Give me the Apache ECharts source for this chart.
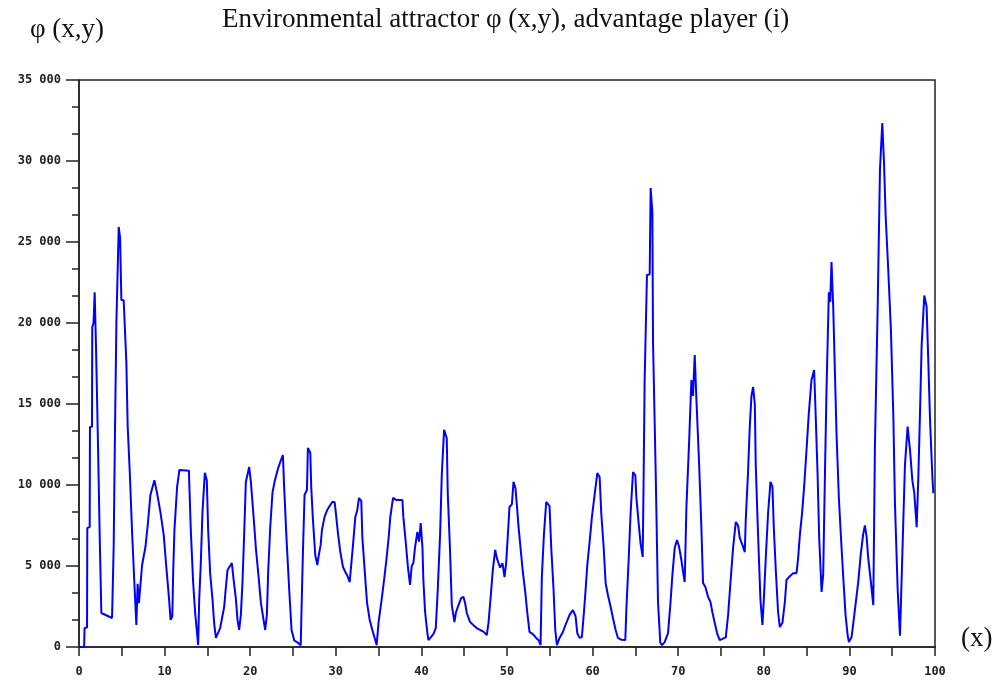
<!DOCTYPE html>
<html>
<head>
<meta charset="utf-8">
<title>Environmental attractor</title>
<script src="https://cdn.jsdelivr.net/npm/echarts@6/dist/echarts.min.js"></script>
<style>
  html, body { margin: 0; padding: 0; background: #fff; }
  #chart { width: 997px; height: 682px; }
</style>
</head>
<body>
<div id="chart"></div>
<script>
// x positions (0..100) and phi(x,y) values
const xs = [
  0, 0.6, 0.65, 0.94, 0.97, 1.25, 1.28, 1.52, 1.55, 1.7, 1.83, 2.0, 2.22, 2.42, 2.61, 3.86,
  4.05, 4.2, 4.37, 4.64, 4.8, 4.95, 5.22, 5.53, 5.69, 5.93, 6.2, 6.47, 6.7, 6.85, 7.0, 7.37,
  7.76, 8.03, 8.34, 8.81, 9.12, 9.51, 9.9, 10.2, 10.5, 10.7, 10.9, 11.0, 11.15, 11.46, 11.73, 12.85,
  12.87, 13.06, 13.33, 13.57, 13.76, 13.92, 14.04, 14.23, 14.42, 14.7, 14.93, 15.09, 15.32, 15.6, 15.79, 15.99,
  16.49, 16.96, 17.15, 17.35, 17.86, 18.05, 18.32, 18.52, 18.71, 18.91, 19.1, 19.3, 19.49, 19.88, 20.08, 20.27,
  20.47, 20.66, 20.94, 21.25, 21.56, 21.75, 21.95, 22.1, 22.34, 22.61, 22.89, 23.2, 23.59, 23.82, 23.98, 24.25,
  24.56, 24.83, 25.15, 25.6, 25.9, 26.0, 26.16, 26.35, 26.63, 26.74, 27.02, 27.13, 27.33, 27.6, 27.84, 27.99,
  28.23, 28.38, 28.69, 29.0, 29.28, 29.59, 29.86, 29.98, 30.25, 30.53, 30.84, 31.11, 31.35, 31.62, 31.81, 32.01,
  32.28, 32.51, 32.71, 32.98, 33.1, 33.37, 33.65, 33.96, 34.27, 34.54, 34.77, 35.0, 35.32, 35.64, 35.91, 36.18,
  36.37, 36.69, 37.08, 37.78, 37.89, 38.17, 38.4, 38.67, 38.87, 39.06, 39.26, 39.53, 39.73, 39.92, 40.12, 40.23,
  40.43, 40.7, 40.82, 41.09, 41.4, 41.68, 41.91, 42.19, 42.38, 42.65, 42.96, 43.08, 43.35, 43.55, 43.86, 44.02,
  44.33, 44.64, 44.91, 45.11, 45.3, 45.69, 46.08, 46.47, 46.86, 47.25, 47.64, 47.84, 48.11, 48.34, 48.62, 48.81,
  49.01, 49.2, 49.47, 49.71, 49.9, 50.1, 50.29, 50.57, 50.76, 50.99, 51.15, 51.35, 51.58, 51.85, 52.13, 52.36,
  52.63, 53.02, 53.41, 53.72, 53.92, 54.07, 54.31, 54.58, 54.7, 54.97, 55.17, 55.44, 55.64, 55.83, 56.14, 56.53,
  56.92, 57.31, 57.7, 58.01, 58.21, 58.48, 58.75, 58.99, 59.18, 59.38, 59.65, 59.92, 60.23, 60.55, 60.82, 61.01,
  61.29, 61.52, 61.79, 62.11, 62.38, 62.69, 62.96, 63.35, 63.82, 63.94, 64.21, 64.44, 64.72, 64.99, 65.11, 65.38,
  65.6, 65.85, 65.95, 66.08, 66.35, 66.67, 66.78, 66.98, 67.06, 67.37, 67.64, 67.91, 68.11, 68.42, 68.81, 69.08,
  69.32, 69.59, 69.86, 70.1, 70.37, 70.57, 70.76, 70.96, 71.27, 71.54, 71.73, 71.93, 72.13, 72.44, 72.71, 72.9,
  73.18, 73.49, 73.76, 73.99, 74.27, 74.54, 74.85, 75.17, 75.56, 75.83, 76.1, 76.41, 76.73, 77.0, 77.19, 77.5,
  77.78, 77.89, 78.16, 78.36, 78.56, 78.75, 78.95, 79.06, 79.33, 79.61, 79.84, 80.0, 80.23, 80.5, 80.78, 81.01,
  81.17, 81.4, 81.67, 81.87, 82.18, 82.46, 82.65, 82.92, 83.43, 83.82, 84.01, 84.21, 84.48, 84.71, 84.99, 85.26,
  85.57, 85.88, 86.04, 86.28, 86.47, 86.75, 86.94, 87.13, 87.33, 87.6, 87.76, 87.91, 88.11, 88.3, 88.5, 88.77,
  89.0, 89.28, 89.55, 89.79, 89.94, 90.25, 90.64, 91.03, 91.34, 91.62, 91.81, 92.01, 92.2, 92.51, 92.79, 92.98,
  93.3, 93.57, 93.84, 94.04, 94.23, 94.54, 94.85, 95.13, 95.32, 95.64, 95.91, 96.1, 96.29, 96.49, 96.8, 97.08,
  97.35, 97.58, 97.86, 98.05, 98.25, 98.44, 98.75, 99.02, 99.22, 99.42, 99.7, 99.8
]
const phi = [
  0, 0, 1170, 1200, 7350, 7400, 13580, 13600, 19750, 20000, 21900, 18200, 12470, 6800, 2100, 1790,
  6170, 13200, 20060, 25930, 25250, 21420, 21400, 17600, 13580, 10800, 7100, 3950, 1360, 3900, 2700, 5060,
  6170, 7530, 9380, 10300, 9500, 8330, 6910, 4940, 3090, 1670, 1900, 4560, 7220, 9880, 10930, 10880,
  10300, 7220, 4030, 2100, 1050, 120, 2900, 5180, 8270, 10760, 10300, 7220, 4560, 2900, 1480, 560,
  1170, 2470, 3640, 4750, 5180, 4200, 3020, 1670, 1050, 2000, 4010, 7030, 10190, 11110, 10190, 8890,
  7530, 6110, 4560, 2720, 1670, 1050, 2000, 4630, 7410, 9570, 10300, 10930, 11540, 11850, 9700, 6600,
  3520, 1050, 400, 250, 100, 2400, 5860, 9380, 9700, 12280, 12000, 9880, 7840, 5680, 5060, 5600,
  6300, 7220, 8030, 8460, 8700, 8950, 8950, 8400, 7030, 5860, 4940, 4630, 4400, 4010, 3900, 6300,
  8030, 8460, 9200, 9000, 6790, 4750, 2720, 1670, 1050, 560, 120, 1540, 2780, 4140, 5370, 6790,
  8030, 9200, 9070, 9070, 8030, 6480, 5060, 3830, 5000, 5180, 6170, 7100, 6500, 7650, 6170, 4140,
  2160, 860, 430, 600, 800, 1170, 3520, 7030, 10620, 13400, 12900, 9500, 5860, 2590, 1540, 2100,
  2590, 3020, 3100, 2700, 2100, 1540, 1350, 1170, 1050, 950, 740, 1500, 3210, 4750, 5990, 5500,
  5180, 4900, 5180, 4320, 5180, 6910, 8640, 8800, 10190, 9800, 8770, 7410, 6110, 4630, 3400, 2160,
  930, 800, 560, 400, 120, 4320, 6910, 8950, 9070, 8700, 6110, 3520, 1050, 120, 560, 930,
  1480, 1980, 2280, 1900, 860, 560, 620, 2160, 3520, 5060, 6480, 8030, 9380, 10740, 10500, 8270,
  6170, 3950, 3210, 2470, 1790, 1050, 560, 450, 430, 2280, 5370, 8270, 10800, 10600, 9260, 7650,
  6400, 5560, 9880, 16480, 22960, 23000, 28330, 26850, 18830, 10800, 2780, 250, 120, 300, 860, 2590,
  4440, 6110, 6600, 6200, 5370, 4630, 4010, 8640, 12590, 16480, 15500, 18020, 15250, 11360, 7350, 3950,
  3700, 3090, 2800, 2160, 1480, 860, 430, 500, 600, 1980, 3950, 6110, 7720, 7500, 6730, 6300,
  5860, 7840, 10800, 13580, 15500, 16050, 15000, 11230, 6910, 2900, 1360, 2900, 5490, 8270, 10190, 9900,
  7350, 4750, 2160, 1230, 1500, 2780, 4140, 4300, 4560, 4560, 5490, 6910, 8330, 9880, 12160, 14440,
  16480, 17100, 14630, 10740, 6730, 3400, 4500, 10300, 15990, 21900, 21300, 23770, 20990, 17100, 13090, 9200,
  6910, 4320, 1980, 740, 310, 600, 2280, 4010, 5800, 7000, 7500, 6800, 5490, 4010, 2590, 12350,
  20930, 29450, 32350, 29940, 26670, 23270, 19570, 14320, 8890, 3520, 700, 4140, 7650, 11230, 13600, 12160,
  10300, 9500, 7400, 10430, 14510, 18640, 21700, 21000, 17600, 14010, 10430, 9500
]
const yTicks = [0, 5000, 10000, 15000, 20000, 25000, 30000, 35000]
const xLabelStep = 10

const chart = echarts.init(document.getElementById('chart'))

const labelFont = {
  fontFamily: 'DejaVu Sans Mono',
  fontWeight: 'bold',
  fontSize: 12,
  color: '#222',
}
const serif = 'Liberation Serif, Times New Roman, serif'

chart.setOption({
  animation: false,
  grid: {
    left: 79,
    right: 62,
    top: 80,
    bottom: 35,
    show: true,
    borderColor: '#222',
    borderWidth: 1.5,
  },
  xAxis: {
    type: 'value',
    min: 0,
    max: 100,
    interval: 5,
    axisLine: { lineStyle: { color: '#222', width: 1.5 } },
    axisTick: { length: 9, lineStyle: { color: '#222', width: 1.5 } },
    axisLabel: {
      ...labelFont,
      margin: 19,
      formatter: (v) => (v % xLabelStep === 0 ? String(v) : ''),
    },
    splitLine: { show: false },
  },
  yAxis: {
    type: 'value',
    min: yTicks[0],
    max: yTicks[yTicks.length - 1],
    interval: yTicks[1] - yTicks[0],
    axisLine: { show: true, lineStyle: { color: '#222', width: 1.5 } },
    axisTick: { show: true, length: 13, lineStyle: { color: '#222', width: 1.5 } },
    minorTick: { show: true, splitNumber: 3, length: 7, lineStyle: { color: '#222', width: 1.5 } },
    axisLabel: {
      ...labelFont,
      margin: 18,
      formatter: (v) => (v === 0 ? '0' : v / 1000 + ' 000'),
    },
    splitLine: { show: false },
  },
  graphic: [
    {
      type: 'text',
      left: 222,
      top: 6,
      style: {
        text: 'Environmental attractor φ (x,y), advantage player (i)',
        fontFamily: serif,
        fontSize: 27,
        fill: '#111',
      },
    },
    {
      type: 'text',
      left: 30,
      top: 16,
      style: { text: 'φ (x,y)', fontFamily: serif, fontSize: 27, fill: '#111' },
    },
    {
      type: 'text',
      left: 961,
      top: 625,
      style: { text: '(x)', fontFamily: serif, fontSize: 27, fill: '#111' },
    },
  ],
  series: [
    {
      type: 'line',
      data: xs.map((x, i) => [x, phi[i]]),
      showSymbol: false,
      lineStyle: { color: '#0000ff', width: 2 },
      itemStyle: { color: '#0000ff' },
    },
  ],
})
</script>
</body>
</html>
